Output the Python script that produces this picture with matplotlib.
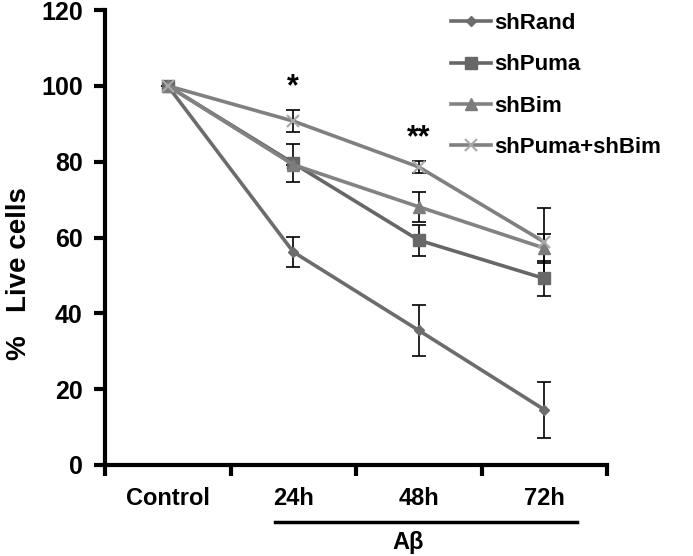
import numpy as np
import matplotlib
matplotlib.use("Agg")
import matplotlib.pyplot as plt

plt.rcParams['font.family'] = ['Liberation Sans', 'DejaVu Sans']
plt.rcParams['font.weight'] = 'bold'

# data
categories = ["Control", "24h", "48h", "72h"]
series = ["shRand", "shPuma", "shBim", "shPuma+shBim"]
sh_rand = [100, 56.2, 35.5, 14.6]
sh_rand_err = [0, 3.9, 6.8, 7.4]
sh_puma = [100, 79.6, 59.3, 49.2]
sh_puma_err = [0, 5.0, 4.1, 4.6]
sh_bim = [100, 79.2, 68.1, 57.2]
sh_bim_err = [0, 0, 4.0, 3.8]
sh_both = [100, 90.7, 78.6, 58.8]
sh_both_err = [0, 3.0, 1.5, 9.0]
stars = {1: "*", 2: "**"}

values = [sh_rand, sh_puma, sh_bim, sh_both]
errors = [sh_rand_err, sh_puma_err, sh_bim_err, sh_both_err]
markers = ["D", "s", "^", "x"]
msizes = [5, 9, 8, 9]
line_cols = ["#6c6c6c", "#676767", "#828282", "#808080"]
mark_cols = ["#6c6c6c", "#676767", "#7c7c7c", "#a8a8a8"]

fig = plt.figure(figsize=(6.93, 5.56), dpi=100)
ax = fig.add_axes([105 / 693, 91 / 556, 502 / 693, 455 / 556])

x = np.arange(len(categories))
for vals, errs, m, ms, lc, mc, name in zip(values, errors, markers, msizes, line_cols, mark_cols, series):
    ax.errorbar(x, vals, yerr=errs, fmt="none", ecolor="black", elinewidth=1.2,
                capsize=5, capthick=1.2, zorder=2)
    ax.plot(x, vals, color=lc, lw=2.6, marker=m, markersize=ms, markerfacecolor=mc,
            markeredgecolor=mc, markeredgewidth=1.5 if m == "x" else 1, label=name, zorder=3)

for i, s in stars.items():
    top = sh_both[i] + sh_both_err[i]
    ax.text(x[i], top + 2.0, s, ha="center", va="bottom", fontsize=22, fontweight="bold")

ax.set_xlim(-0.5, 3.5)
ax.set_ylim(0, 120)
ax.set_yticks(np.arange(0, 121, 20))
ax.set_xticks(np.arange(-0.5, 4, 1))
ax.set_xticklabels([])
ax.set_xticks(x, minor=True)
ax.set_xticklabels(categories, minor=True)
ax.tick_params(axis="x", which="minor", length=0, pad=16, labelsize=17)
ax.tick_params(axis="x", which="major", direction="out", length=8, width=3)
ax.tick_params(axis="y", direction="out", length=8, width=3, labelsize=18, pad=8)
for lab in ax.get_yticklabels() + ax.get_xticklabels(minor=True):
    lab.set_fontweight("bold")

for side in ["top", "right"]:
    ax.spines[side].set_visible(False)
for side in ["left", "bottom"]:
    ax.spines[side].set_linewidth(3)

ax.set_ylabel("%   Live cells", fontsize=20, fontweight="bold")
ax.yaxis.set_label_coords(-0.146, 0.42)

# A-beta bracket under the time points
fig.add_artist(plt.Line2D([275 / 693, 577 / 693], [1 - 522 / 556] * 2, color="black", lw=2.5))
fig.text(408 / 693, 1 - 542 / 556, "Aβ", ha="center", va="center", fontsize=17, fontweight="bold")

leg = ax.legend(loc="upper left", bbox_to_anchor=(335 / 502, 1.018), frameon=False, borderpad=0,
                handlelength=1.8, handletextpad=0.15, labelspacing=0.92,
                prop={"size": 16, "weight": "bold"})

fig.savefig("out.png", dpi=100)
